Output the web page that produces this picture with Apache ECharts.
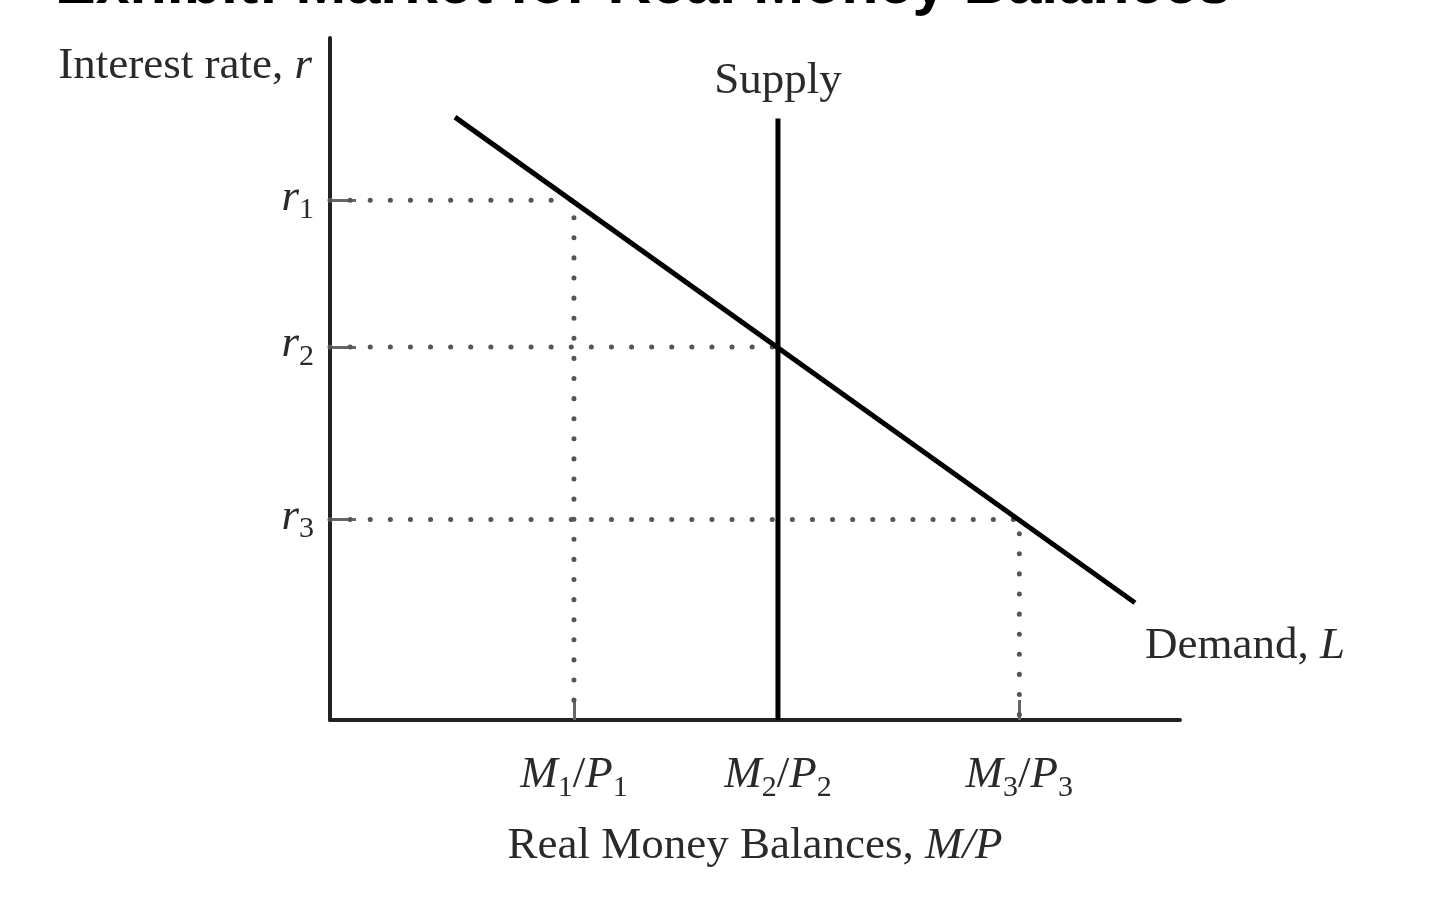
<!DOCTYPE html>
<html>
<head>
<meta charset="utf-8">
<script src="https://cdn.jsdelivr.net/npm/echarts@6/dist/echarts.min.js"></script>
<style>
html,body{margin:0;padding:0;background:#fff;}
#c{width:1440px;height:898px;}
</style>
</head>
<body>
<div id="c"></div>
<script>
// ---- data ----
const titleText = 'Exhibit: Market for Real Money Balances';
const xAxisName = ['Real Money Balances, ', 'M/P'];
const yAxisName = ['Interest rate, ', 'r'];
const xTickValues = [28.7, 52.7, 81.1];          // M1/P1, M2/P2, M3/P3
const xTickSubs = ['1', '2', '3'];
const yTickValues = [76.2, 54.7, 29.4];          // r1, r2, r3
const yTickSubs = ['1', '2', '3'];
const demandX = [14.7, 94.7];
const demandY = [88.4, 17.2];
const supplyX = [52.7, 52.7];
const supplyY = [0, 88.2];

const serif = '"Liberation Serif", "DejaVu Serif", serif';
const txt = '#2a2a2a';

const rich = {
  i: {fontFamily: serif, fontStyle: 'italic', fontSize: 45, color: txt, lineHeight: 50, verticalAlign: 'top'},
  n: {fontFamily: serif, fontSize: 45, color: txt, lineHeight: 50, verticalAlign: 'top'},
  s: {fontFamily: serif, fontSize: 30, color: txt, lineHeight: 30, verticalAlign: 'bottom'}
};

const demandData = demandX.map((x, i) => [x, demandY[i]]);
const supplyData = supplyX.map((x, i) => [x, supplyY[i]]);

// dotted guide lines built from tick values and intersections
const guides = [];
guides.push([[0, yTickValues[0]], [xTickValues[0], yTickValues[0]], [xTickValues[0], 0]]);
guides.push([[0, yTickValues[1]], [xTickValues[1], yTickValues[1]]]);
guides.push([[0, yTickValues[2]], [xTickValues[2], yTickValues[2]], [xTickValues[2], 0]]);

const series = guides.map(g => ({
  type: 'line', data: g, symbol: 'none', silent: true, z: 1,
  lineStyle: {color: '#555', width: 5, type: [0.1, 20], cap: 'round'}
}));
series.push({
  type: 'line', data: demandData, symbol: 'none', z: 3,
  lineStyle: {color: '#000', width: 5},
  endLabel: {
    show: true, formatter: '{n|Demand, }{i|L}', rich: rich,
    offset: [2, 46]
  }
});
series.push({
  type: 'line', data: supplyData, symbol: 'none', z: 3,
  lineStyle: {color: '#000', width: 5},
  endLabel: {
    show: true, formatter: '{n|Supply}', rich: rich,
    align: 'center', offset: [-8, -35]
  }
});

const chart = echarts.init(document.getElementById('c'));
chart.setOption({
  animation: false,
  backgroundColor: '#fff',
  graphic: [{
    type: 'text', left: 55, top: -44,
    style: {text: titleText, font: 'bold 61px "Liberation Sans", Arial, sans-serif', fill: '#000'}
  }],
  grid: {left: 330, right: 260, top: 38, bottom: 178},
  xAxis: {
    type: 'value', min: 0, max: 100,
    name: '{n|' + xAxisName[0] + '}{i|' + xAxisName[1] + '}',
    nameLocation: 'middle', nameGap: 104,
    nameTextStyle: {rich: rich},
    splitLine: {show: false},
    axisLine: {lineStyle: {color: '#222', width: 4}},
    axisTick: {show: true, inside: true, length: 20, customValues: xTickValues, lineStyle: {color: '#666', width: 3}},
    axisLabel: {
      show: true, customValues: xTickValues, margin: 33,
      formatter: v => {
        const k = xTickValues.indexOf(v);
        const s = xTickSubs[k];
        return '{i|M}{s|' + s + '}{n|/}{i|P}{s|' + s + '}';
      },
      rich: rich
    }
  },
  yAxis: {
    type: 'value', min: 0, max: 100,
    name: '{n|' + yAxisName[0] + '}{i|' + yAxisName[1] + '}',
    nameLocation: 'end', nameGap: -56,
    nameTextStyle: {align: 'right', padding: [0, 18, 0, 0], rich: rich},
    splitLine: {show: false},
    axisLine: {lineStyle: {color: '#222', width: 4}},
    axisTick: {show: true, inside: true, length: 26, customValues: yTickValues, lineStyle: {color: '#666', width: 3}},
    axisLabel: {
      show: true, customValues: yTickValues, margin: 16,
      formatter: v => {
        const k = yTickValues.indexOf(v);
        return '{i|r}{s|' + yTickSubs[k] + '}';
      },
      rich: rich
    }
  },
  series: series
});
</script>
</body>
</html>
